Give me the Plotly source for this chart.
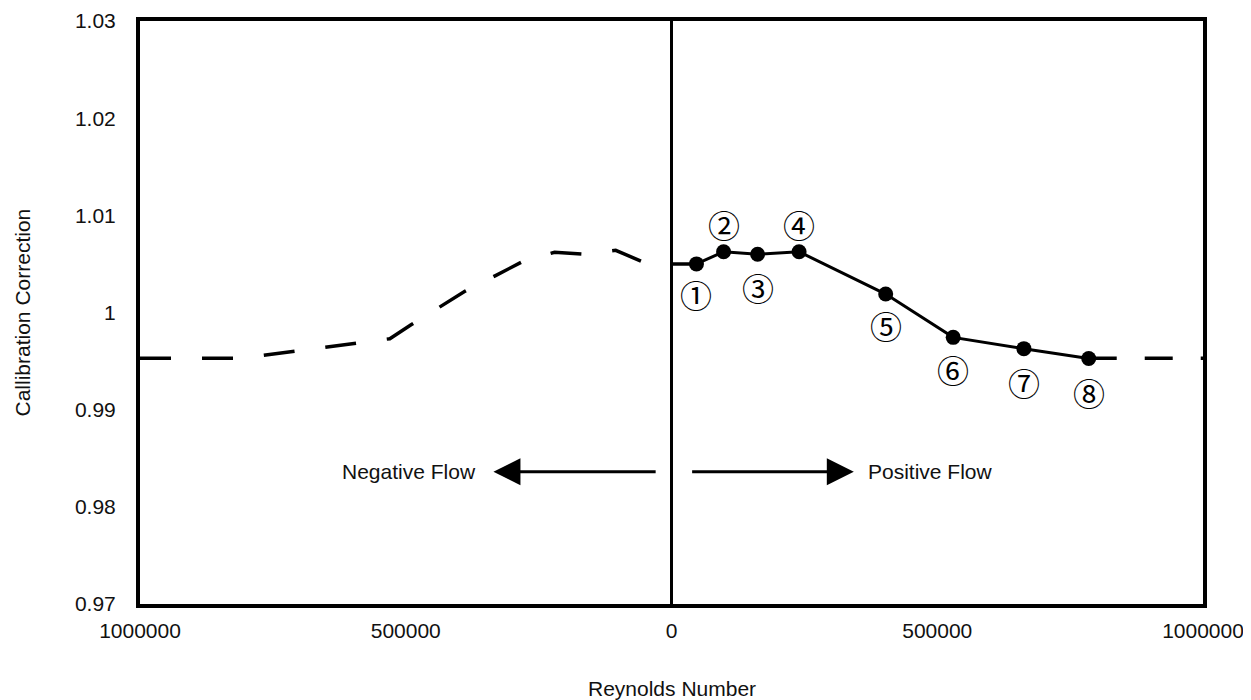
import plotly.graph_objects as go

# measured calibration points (positive flow)
reynolds_pos = [47000, 98000, 162000, 240000, 403000, 530000, 663000, 785000]
correction_pos = [1.0050, 1.00625, 1.0060, 1.00625, 1.0019, 0.99744, 0.99628, 0.99526]
point_ids = ["①", "②", "③", "④", "⑤", "⑥", "⑦", "⑧"]
label_offset = [30, -28, 33, -28, 31, 32, 33, 33]  # px, + is below the point

# estimated curve (negative flow), dashed
reynolds_neg = [-1000000, -810000, -530000, -490000, -438000, -388000, -331000,
                -278000, -220000, -165000, -105000, -45000, 47000]
correction_neg = [0.9953, 0.9953, 0.9973, 0.99874, 1.0005, 1.0022, 1.0038,
                  1.0053, 1.0062, 1.0060, 1.0064, 1.0050, 1.0050]

# dashed extension past last point
reynolds_ext = [785000, 1000000]
correction_ext = [0.9953, 0.9953]

x_ticks = [-1000000, -500000, 0, 500000, 1000000]
x_ticktext = ["1000000", "500000", "0", "500000", "1000000"]
y_ticks = [0.97, 0.98, 0.99, 1.0, 1.01, 1.02, 1.03]
y_ticktext = ["0.97", "0.98", "0.99", "1", "1.01", "1.02", "1.03"]

font = "Liberation Sans, Arial, sans-serif"
txt = "#111"

fig = go.Figure()
fig.add_trace(go.Scatter(x=reynolds_neg, y=correction_neg, mode="lines",
                         line=dict(color="black", width=3.5, dash="31px,31px")))
fig.add_trace(go.Scatter(x=reynolds_ext, y=correction_ext, mode="lines",
                         line=dict(color="black", width=3.5, dash="28px,28px")))
fig.add_trace(go.Scatter(x=reynolds_pos, y=correction_pos, mode="lines+markers",
                         line=dict(color="black", width=3),
                         marker=dict(color="black", size=15)))

for x, y, t, off in zip(reynolds_pos, correction_pos, point_ids, label_offset):
    fig.add_annotation(x=x, y=y, text=t, showarrow=True, arrowcolor="rgba(0,0,0,0)",
                       ax=0, ay=off,
                       font=dict(family="Noto Sans CJK JP", size=32, color="black"))

# flow direction arrows
fig.add_annotation(x=-335000, y=0.9836, ax=-27000, ay=0.9836, axref="x", ayref="y",
                   xref="x", yref="y", text="", showarrow=True,
                   arrowhead=2, arrowsize=1.8, arrowwidth=3, arrowcolor="black")
fig.add_annotation(x=343000, y=0.9836, ax=36000, ay=0.9836, axref="x", ayref="y",
                   xref="x", yref="y", text="", showarrow=True,
                   arrowhead=2, arrowsize=1.8, arrowwidth=3, arrowcolor="black")
fig.add_annotation(x=-365000, y=0.9836, text="Negative Flow", showarrow=False, xanchor="right",
                   font=dict(family=font, size=21, color=txt))
fig.add_annotation(x=365000, y=0.9836, text="Positive Flow", showarrow=False, xanchor="left",
                   font=dict(family=font, size=21, color=txt))

# axis titles
fig.add_annotation(xref="paper", yref="paper", x=0.5, y=0, yshift=-84, yanchor="middle",
                   text="Reynolds Number", showarrow=False,
                   font=dict(family=font, size=21, color=txt))
fig.add_annotation(xref="paper", yref="paper", x=0, y=0.5, xshift=-118, xanchor="center",
                   textangle=-90, text="Callibration Correction", showarrow=False,
                   font=dict(family=font, size=21, color=txt))

# page body has an 8px margin, so the figure is sized to end at the window edge
fig.update_layout(
    width=1243, height=692,
    margin=dict(l=132, r=48, t=13, b=96),
    plot_bgcolor="white", paper_bgcolor="white",
    showlegend=False,
    font=dict(family=font, size=21, color=txt),
)
fig.update_xaxes(range=[-1000000, 1000000], tickvals=x_ticks, ticktext=x_ticktext,
                 showgrid=False, zeroline=True, zerolinecolor="black", zerolinewidth=3,
                 showline=True, linecolor="black", linewidth=4, mirror=True,
                 ticks="", ticklabelstandoff=5, automargin=False)
fig.update_yaxes(range=[0.97, 1.03], tickvals=y_ticks, ticktext=y_ticktext,
                 showgrid=False, zeroline=False,
                 showline=True, linecolor="black", linewidth=4, mirror=True,
                 ticks="", ticklabelstandoff=16, automargin=False)

fig.write_html("out.html")
